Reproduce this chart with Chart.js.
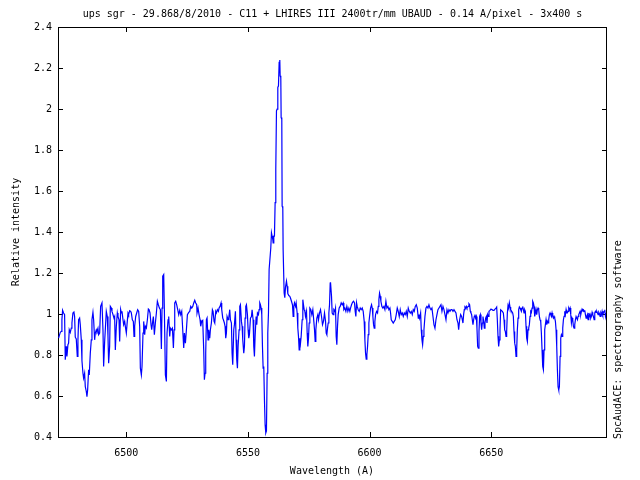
<!DOCTYPE html>
<html><head><meta charset="utf-8">
<script src="https://cdn.jsdelivr.net/npm/chart.js@4/dist/chart.umd.min.js"></script>
<style>html,body{margin:0;padding:0;background:#fff}canvas{display:block}</style>
</head><body>
<canvas id="c" width="640" height="480"></canvas>
<script>
const chartTitle = "ups sgr - 29.868/8/2010 - C11 + LHIRES III 2400tr/mm UBAUD - 0.14 A/pixel - 3x400 s";
const xAxisTitle = "Wavelength (A)";
const yAxisTitle = "Relative intensity";
const sideLabel = "SpcAudACE: spectrography software";
const xTicks = [6500, 6550, 6600, 6650];
const yTicks = [0.4, 0.6, 0.8, 1.0, 1.2, 1.4, 1.6, 1.8, 2.0, 2.2, 2.4];

const wavelength = [
6472.14,6472.83,6473.24,6473.51,6473.79,6474.20,6474.61,6474.89,6475.30,6475.57,6475.98,6476.26,6476.53,6476.94,6477.36,6477.63,6478.04,6478.45,6478.73,6479.00,
6479.41,6479.83,6480.10,6480.37,6480.79,6481.06,6481.47,6481.75,6482.16,6482.43,6482.84,6483.12,6483.53,6483.80,6484.08,6484.49,6484.76,6485.18,6485.59,6485.86,
6486.27,6486.55,6486.96,6487.23,6487.65,6487.92,6488.33,6488.61,6489.02,6489.43,6489.98,6490.39,6490.66,6491.08,6491.35,6491.76,6492.17,6492.45,6492.72,6493.13,
6493.41,6493.82,6494.09,6494.51,6494.92,6495.19,6495.47,6495.88,6496.29,6496.56,6496.98,6497.25,6497.66,6497.94,6498.21,6498.62,6498.90,6499.31,6499.58,6499.99,
6500.27,6500.68,6500.95,6501.37,6501.78,6502.05,6502.46,6502.87,6503.15,6503.42,6503.84,6504.25,6504.66,6505.07,6505.48,6505.76,6506.17,6506.44,6506.85,6507.13,
6507.54,6507.81,6508.23,6508.64,6509.05,6509.32,6509.73,6510.15,6510.42,6510.83,6511.11,6511.52,6511.93,6512.34,6512.75,6513.16,6513.58,6513.99,6514.40,6514.67,
6514.95,6515.36,6515.63,6516.05,6516.46,6516.73,6517.14,6517.42,6517.83,6518.10,6518.52,6518.93,6519.34,6519.61,6519.89,6520.30,6520.71,6521.12,6521.53,6521.95,
6522.36,6522.77,6523.18,6523.59,6523.87,6524.28,6524.69,6525.10,6525.65,6526.06,6526.47,6526.88,6527.30,6527.71,6528.12,
6528.52,6528.93,6529.06,6529.48,6529.89,6530.30,6530.57,6530.98,6531.40,6531.81,6532.08,6532.36,6532.63,6532.91,6533.18,6533.59,6533.87,6534.28,6534.55,6534.96,
6535.38,6535.65,6536.06,6536.34,6536.75,6537.02,6537.43,6537.84,6538.12,6538.53,6538.94,6539.22,6539.63,6539.90,6540.31,6540.59,6540.86,6541.14,6541.41,6541.82,
6542.10,6542.51,6542.78,6543.20,6543.47,6543.74,6544.16,6544.43,6544.84,6545.12,6545.39,6545.67,6545.94,6546.35,6546.63,6546.90,6547.31,6547.59,6547.86,6548.27,
6548.55,6548.82,6549.10,6549.37,6549.78,6550.06,6550.33,6550.60,6551.02,6551.43,6551.70,6552.11,6552.39,6552.66,6552.94,6553.35,6553.62,6553.90,6554.31,6554.58,
6554.86,6555.13,6555.41,6555.68,6555.96,6556.23,6556.50,6556.78,6557.05,6557.33,6557.60,6557.88,6558.15,6558.43,6558.70,
6558.97,6559.39,6559.66,6559.93,6560.21,6560.35,6560.62,6560.89,6561.17,6561.44,6561.72,6561.99,6562.27,6562.54,6562.82,6563.09,6563.23,6563.50,6563.64,6563.91,
6564.05,6564.32,6564.46,6564.74,6564.87,6565.15,6565.42,6565.83,6566.11,6566.38,6566.79,6567.20,6567.48,
6567.89,6568.30,6568.58,6568.85,6569.13,6569.54,6569.81,6570.22,6570.50,6570.77,6571.05,6571.32,6571.60,6571.87,6572.28,6572.56,6572.83,6573.11,6573.38,6573.65,
6574.07,6574.34,6574.61,6574.89,6575.16,6575.44,6575.85,6576.26,6576.67,6577.08,6577.36,6577.63,6577.91,6578.32,6578.73,6579.01,6579.42,6579.83,6580.24,6580.65,
6581.06,6581.47,6581.89,6582.16,6582.43,6582.71,6582.98,6583.26,6583.53,6583.81,6583.94,
6584.35,6584.62,6585.03,6585.31,6585.72,6585.99,6586.27,6586.54,6586.82,6587.09,6587.50,6587.91,6588.33,6588.74,6589.15,6589.42,6589.84,6590.25,6590.66,6591.07,
6591.48,6591.89,6592.17,6592.58,6592.99,6593.40,6593.81,6594.09,6594.36,6594.64,6594.91,6595.32,6595.74,6596.15,6596.56,6596.97,6597.38,6597.79,6598.07,6598.34,
6598.62,6598.89,6599.17,6599.44,6599.71,6599.99,6600.40,6600.81,6601.09,6601.36,6601.63,6601.91,6602.18,6602.46,6602.87,6603.28,6603.56,6603.83,6604.10,6604.38,
6604.65,6605.06,6605.48,6605.89,6606.30,6606.71,6607.12,6607.53,6607.95,6608.36,6608.63,6608.91,6609.32,6609.73,6610.14,6610.55,6610.96,6611.38,6611.79,6612.20,
6612.61,6613.02,6613.43,6613.85,6614.26,6614.67,6615.08,6615.49,6615.90,6616.32,6616.73,6617.14,6617.55,6617.96,6618.37,6618.78,6619.20,6619.61,6620.02,6620.29,
6620.57,6620.98,6621.25,6621.53,6621.80,6622.08,6622.35,6622.76,6623.18,6623.59,6624.00,6624.41,6624.82,6625.23,6625.64,6626.06,6626.47,6626.88,6627.29,6627.70,
6628.11,6628.53,6628.94,6629.35,6629.76,6630.17,6630.58,6631.00,6631.41,6631.82,6632.23,6632.64,6633.05,6633.47,6633.88,6634.29,6634.70,6635.11,6635.52,6635.93,
6636.35,6636.62,6637.03,6637.44,
6637.84,6638.12,6638.39,6638.66,6638.94,6639.21,6639.49,6639.76,6640.04,6640.31,6640.59,6640.86,6641.13,6641.41,6641.68,6641.96,6642.23,6642.51,6642.78,6643.06,
6643.33,6643.60,6643.88,6644.15,6644.43,6644.70,6644.98,6645.25,6645.52,6645.80,6646.07,6646.35,6646.62,6646.90,6647.17,6647.45,6647.72,6647.99,6648.27,6648.54,
6648.82,6649.09,6649.50,6649.92,6650.33,6650.74,6651.15,6651.56,6651.97,6652.25,6652.52,6652.80,6653.07,6653.35,6653.62,6653.89,6654.17,6654.58,6654.99,6655.27,
6655.54,6655.81,6656.09,6656.36,6656.64,6656.91,6657.19,6657.46,6657.74,6658.01,6658.42,6658.83,6659.11,6659.38,6659.66,6659.93,6660.21,6660.48,6660.75,6661.03,
6661.30,6661.58,6661.85,6662.13,6662.40,6662.67,6662.95,6663.22,6663.50,6663.77,6664.05,6664.32,6664.60,6664.87,6665.14,6665.42,6665.69,6665.97,6666.24,6666.52,
6666.79,6667.07,6667.34,6667.61,6667.89,6668.16,6668.44,6668.71,6668.99,6669.26,6669.53,6669.81,6670.08,6670.36,6670.63,6670.91,6671.18,6671.46,6671.73,6672.00,
6672.28,6672.55,6672.83,6673.10,6673.38,6673.65,6673.93,6674.20,6674.47,6674.75,6675.02,6675.30,6675.57,6675.85,6676.12,6676.40,6676.67,6676.94,6677.22,6677.49,
6677.77,6678.04,6678.32,6678.59,6678.86,6679.14,6679.41,6679.69,6679.96,6680.24,6680.51,6680.79,6681.06,6681.33,6681.61,6681.88,6682.16,6682.43,6682.71,6682.98,
6683.26,6683.53,6683.80,6684.08,6684.35,6684.63,6684.90,6685.18,6685.45,6685.72,6686.00,6686.27,6686.55,6686.82,6687.10,6687.37,6687.65,6687.92,6688.19,6688.47,
6688.74,6689.02,6689.29,6689.57,6689.84,6690.12,6690.39,6690.66,6690.94,6691.21,6691.49,6691.76,6692.04,6692.31,6692.58,6692.86,6693.13,6693.41,6693.68,6693.96,
6694.23,6694.51,6694.78,6695.06,6695.33,6695.60,6695.88,6696.15,6696.43,6696.70,6696.98,6697.25
];

const intensity = [
0.882,0.910,0.915,0.972,1.018,1.005,0.997,0.777,0.842,0.793,0.850,0.858,0.923,0.910,0.931,0.956,1.005,1.010,0.988,0.887,
0.878,0.793,0.874,0.972,0.980,0.948,0.874,0.772,0.711,0.687,0.711,0.646,0.622,0.597,0.630,0.728,0.703,0.809,0.874,0.972,
1.008,0.972,0.874,0.907,0.923,0.915,0.931,0.899,0.907,1.037,1.054,0.923,0.744,0.866,0.923,1.013,0.988,0.891,0.760,0.842,
1.037,1.029,1.013,0.997,0.980,0.988,0.825,0.940,1.005,0.988,0.972,0.866,1.021,1.005,1.013,0.972,0.948,0.964,0.940,0.907,
0.948,1.005,0.997,1.016,1.013,1.005,0.972,0.964,0.891,0.940,0.988,1.005,1.021,1.013,0.940,0.736,0.703,0.744,0.907,0.964,
0.899,0.940,0.931,0.972,1.024,1.021,1.005,0.948,0.923,0.964,0.988,0.899,0.956,1.005,1.062,1.045,1.029,1.021,0.829,1.029,
1.184,1.192,1.021,0.703,0.671,0.907,0.972,0.988,0.891,0.931,0.923,0.931,0.834,0.923,1.054,1.062,1.045,1.021,0.997,1.018,
0.997,1.013,0.923,0.834,0.907,0.858,0.923,0.997,1.008,1.013,1.037,1.029,1.037,1.054,1.067,
1.054,1.045,1.005,1.029,0.997,0.972,0.940,0.964,0.969,0.825,0.679,0.711,0.809,0.972,0.980,0.874,0.923,0.882,0.923,0.956,
1.021,1.013,0.964,0.956,1.013,1.005,1.021,1.013,1.029,1.037,1.054,1.021,0.980,0.972,0.956,0.940,0.882,0.907,0.988,0.972,
0.980,1.021,0.972,0.956,0.809,0.752,0.923,0.948,1.013,0.874,0.777,0.736,0.842,0.923,1.037,1.045,0.964,0.940,0.874,0.809,
0.842,0.980,1.037,1.045,0.997,0.923,0.882,0.899,0.980,0.988,1.021,0.972,0.842,0.793,0.891,0.988,0.948,1.005,0.997,1.021,
1.054,1.045,1.029,0.997,0.842,0.736,0.744,0.581,0.460,0.420,0.430,0.711,0.907,1.005,1.217,
1.217,1.323,1.396,1.380,1.363,1.347,1.380,1.380,1.543,1.706,1.991,1.999,2.105,2.113,2.227,2.239,2.162,2.154,1.958,1.950,
1.526,1.518,1.314,1.314,1.103,1.080,1.130,1.160,1.135,1.100,1.090,1.086,1.078,
1.062,1.045,0.988,1.037,1.054,1.037,1.054,1.005,0.931,0.891,0.825,0.882,0.858,0.891,0.972,1.070,1.045,1.021,1.013,0.988,
1.013,0.907,0.842,0.882,0.956,1.029,1.021,0.997,1.021,0.964,0.923,0.866,0.923,0.980,0.997,0.972,1.005,1.021,0.988,0.948,
0.964,1.005,0.964,0.907,0.899,0.931,0.956,1.005,1.045,1.151,1.155,
1.086,1.005,0.997,1.021,1.013,1.029,0.891,0.850,0.940,0.997,1.029,1.037,1.054,1.045,1.054,1.021,1.029,1.013,1.037,1.013,
1.029,1.013,1.029,1.045,1.057,1.062,1.054,1.013,0.988,1.054,1.037,1.021,1.013,1.029,1.021,1.029,1.013,0.964,0.874,0.809,
0.780,0.801,0.842,0.899,0.956,0.988,1.029,1.045,1.029,0.988,0.948,0.931,0.964,0.997,1.013,1.005,1.037,1.070,1.102,1.086,
1.062,1.037,1.029,1.037,1.021,1.062,1.029,1.037,1.021,1.029,1.005,0.972,0.964,0.956,0.964,0.972,0.997,1.029,1.013,0.988,
1.021,0.997,1.005,0.988,1.005,0.997,1.013,0.988,1.029,1.013,1.005,1.013,0.997,1.021,1.013,1.037,1.045,1.029,0.980,0.997,
0.980,1.005,0.923,0.874,0.850,0.891,0.923,0.988,1.029,1.037,1.029,1.045,1.029,1.021,1.029,0.988,0.948,0.931,0.972,0.997,
1.021,1.029,1.037,1.045,1.013,1.037,1.021,0.997,0.972,1.021,1.005,1.021,1.013,1.021,1.021,1.013,1.021,1.013,1.005,0.972,
0.956,0.923,0.972,0.997,
0.988,0.972,0.956,0.997,1.021,1.034,1.029,1.037,1.029,1.034,1.037,1.050,1.045,1.013,1.005,0.997,0.972,0.948,0.972,0.988,
0.997,0.980,0.988,0.931,0.842,0.834,0.915,0.988,0.997,0.956,0.923,0.956,0.988,0.964,0.931,0.956,0.980,0.988,0.956,0.997,
0.988,1.013,1.018,1.024,1.021,1.018,1.018,1.024,1.029,1.034,0.972,0.891,0.842,0.874,0.923,1.021,1.018,1.013,1.005,0.972,
0.923,0.915,0.891,0.915,1.005,1.041,1.029,1.054,1.034,1.021,1.013,1.005,0.988,0.915,0.858,0.842,0.793,0.825,0.923,0.980,
1.021,1.034,1.029,1.021,1.013,1.029,1.037,1.021,1.005,1.021,1.013,0.940,0.882,0.866,0.923,0.931,0.948,0.988,1.013,1.008,
1.029,1.062,1.054,1.037,0.988,1.005,1.021,0.997,1.021,1.029,1.021,0.988,0.972,0.964,0.907,0.825,0.744,0.728,0.825,0.923,
0.948,0.972,0.948,0.964,0.956,0.972,0.997,1.005,0.997,0.988,1.005,0.988,0.980,0.988,0.980,0.964,0.923,0.842,0.728,0.646,
0.630,0.646,0.793,0.882,0.899,0.891,0.931,0.972,0.988,1.013,0.997,1.021,1.005,1.005,1.013,1.029,1.021,1.029,0.997,0.956,
0.980,0.972,0.940,0.931,0.948,0.972,0.988,0.988,0.972,0.988,0.997,1.005,1.013,0.997,1.013,1.024,1.018,1.021,1.013,1.018,
0.997,0.980,0.988,0.997,0.972,1.005,0.988,0.997,0.980,0.988,1.008,0.997,0.988,0.972,1.005,1.013,1.008,1.013,1.005,0.997,
1.008,1.001,0.988,1.005,0.997,1.013,0.997,1.005,1.013,1.021,0.988,1.005
];

const FONT = {family: "'DejaVu Sans Mono', 'Liberation Mono', monospace", size: 10, weight: 'normal'};
const FONT_CSS = "10px 'DejaVu Sans Mono', 'Liberation Mono', monospace";

const framePlugin = {
  id: 'frame',
  beforeDatasetsDraw(chart) {
    const {ctx, chartArea: {left, right, top, bottom}, scales: {x, y}} = chart;
    ctx.save();
    ctx.strokeStyle = '#000';
    ctx.lineWidth = 1;
    ctx.strokeRect(left + 0.5, top + 0.5, right - left, bottom - top);
    ctx.beginPath();
    const tl = 5;
    xTicks.forEach(v => {
      const px = Math.round(x.getPixelForValue(v)) + 0.5;
      ctx.moveTo(px, bottom); ctx.lineTo(px, bottom - tl);
      ctx.moveTo(px, top); ctx.lineTo(px, top + tl);
    });
    yTicks.forEach(v => {
      const py = Math.round(y.getPixelForValue(v)) + 0.5;
      ctx.moveTo(left, py); ctx.lineTo(left + tl, py);
      ctx.moveTo(right + 1, py); ctx.lineTo(right + 1 - tl, py);
    });
    ctx.stroke();
    ctx.restore();
  },
  afterDraw(chart) {
    const {ctx, chartArea: {left, right}} = chart;
    ctx.save();
    ctx.fillStyle = '#000';
    ctx.font = FONT_CSS;
    ctx.textAlign = 'center';
    ctx.textBaseline = 'middle';
    ctx.fillText(chartTitle, (left + right + 1) / 2, 14);
    ctx.translate(618, 439);
    ctx.rotate(-Math.PI / 2);
    ctx.textAlign = 'left';
    ctx.textBaseline = 'middle';
    ctx.fillText(sideLabel, 0, 0);
    ctx.restore();
  }
};

new Chart(document.getElementById('c'), {
  type: 'line',
  data: {
    datasets: [{
      data: wavelength.map((w, i) => ({x: w, y: intensity[i]})),
      borderColor: '#0000ff',
      borderWidth: 1.2,
      pointRadius: 0,
      tension: 0,
      fill: false
    }]
  },
  options: {
    responsive: false,
    animation: false,
    devicePixelRatio: 1,
    layout: {padding: {top: 27, right: 34, bottom: 0, left: 0}},
    plugins: {
      legend: {display: false},
      tooltip: {enabled: false},
      title: {display: false}
    },
    scales: {
      x: {
        type: 'linear', min: 6471.9, max: 6697.2,
        afterBuildTicks: s => { s.ticks = xTicks.map(v => ({value: v})); },
        afterFit: s => { s.height = 43; },
        grid: {display: false, drawTicks: false},
        border: {display: false},
        ticks: {color: '#000', font: FONT, padding: 10, maxRotation: 0, autoSkip: false,
                callback: v => String(v)},
        title: {display: true, text: xAxisTitle, color: '#000', font: FONT, padding: {top: 0, bottom: 3}}
      },
      y: {
        type: 'linear', min: 0.4, max: 2.4,
        afterBuildTicks: s => { s.ticks = yTicks.map(v => ({value: v})); },
        afterFit: s => { s.width = 58; },
        grid: {display: false, drawTicks: false},
        border: {display: false},
        ticks: {color: '#000', font: FONT, padding: 6, autoSkip: false,
                callback: v => String(+v.toFixed(1))},
        title: {display: true, text: yAxisTitle, color: '#000', font: FONT, padding: {top: 10, bottom: 0}}
      }
    }
  },
  plugins: [framePlugin]
});
</script>
</body></html>
